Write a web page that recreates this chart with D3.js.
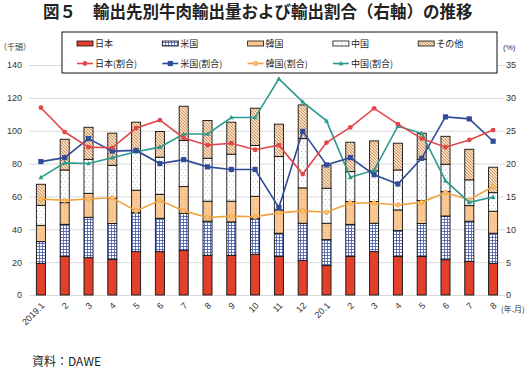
<!DOCTYPE html>
<html><head><meta charset="utf-8">
<script src="https://cdn.jsdelivr.net/npm/d3@7/dist/d3.min.js"></script>
<style>
body{margin:0;background:#fff;}
svg{display:block;}
text{font-family:"Liberation Sans","Noto Sans CJK JP",sans-serif;}
.jp{font-family:"Noto Sans CJK JP","Noto Sans",sans-serif;}
</style></head><body>
<svg id="c" width="531" height="369"></svg>
<script>
const months = ["2019.1","2","3","4","5","6","7","8","9","10","11","12","20.1","2","3","4","5","6","7","8"];
const japan = [19.3,23.4,22.7,21.7,26.4,26.4,27.2,24.2,24.2,24.8,23.4,21.1,17.9,23.4,26.4,23.4,23.4,21.5,20.5,19.3];
const usa   = [13.2,19.6,24.6,21.8,23.8,20.3,22.5,20.7,20.3,21.7,14.2,22.6,15.8,19.6,17.3,15.8,20.1,26.6,24.4,18.3];
const korea = [9.9,13.2,14.6,15.4,13.6,14.6,16.3,12.2,12.6,13.6,14.2,21.5,10.0,13.9,13.2,12.6,14.0,14.8,9.5,13.4];
const china = [12.2,19.9,20.7,20.1,24.1,22.6,28.0,26.1,28.6,30.9,32.5,30.0,21.3,18.2,18.6,24.3,25.1,16.7,15.7,11.3];
const other = [12.8,18.7,19.5,19.5,17.3,15.6,20.9,23.0,19.5,22.7,19.7,20.5,14.0,17.9,18.3,16.3,15.9,17.0,18.6,15.5];
const japanShare = [28.5,24.8,22.5,22.4,25.4,26.6,23.9,22.8,23.1,22.1,22.8,18.4,23.2,25.5,28.4,26.0,23.8,22.5,23.6,25.1];
const usaShare   = [20.3,20.9,23.8,21.9,22.0,20.0,20.6,19.5,19.1,19.1,13.3,24.9,19.8,20.9,18.3,16.9,20.8,27.1,26.8,23.4];
const koreaShare = [14.6,14.4,14.6,14.8,12.8,14.4,12.8,11.8,12.0,11.9,12.5,12.8,12.6,14.0,14.0,13.7,14.1,15.6,14.5,16.5];
const chinaShare = [17.9,20.1,20.0,20.9,21.8,22.5,24.5,24.5,27.0,27.0,32.9,29.4,26.5,17.9,19.0,25.7,24.6,17.4,14.1,14.9];
const leftTicks = [0,20,40,60,80,100,120,140];
const rightTicks = [0,5,10,15,20,25,30,35];
const barNames = ["日本","米国","韓国","中国","その他"];
const lineNames = ["日本(割合)","米国(割合)","韓国(割合)","中国(割合)"];

const svg = d3.select("#c");
const defs = svg.append("defs");
// patterns
let p = defs.append("pattern").attr("id","pUS").attr("patternUnits","userSpaceOnUse").attr("width",3).attr("height",3);
p.append("rect").attr("width",3).attr("height",3).attr("fill","#fff");
p.append("path").attr("d","M0,0.5H3M0.5,0V3").attr("stroke","#4a5fb0").attr("stroke-width",0.85);
p = defs.append("pattern").attr("id","pKR").attr("patternUnits","userSpaceOnUse").attr("width",3).attr("height",3);
p.append("rect").attr("width",3).attr("height",3).attr("fill","#f9c893");
p.append("rect").attr("x",1).attr("y",1).attr("width",1).attr("height",1).attr("fill","#f4b577");
p = defs.append("pattern").attr("id","pCN").attr("patternUnits","userSpaceOnUse").attr("width",4).attr("height",6);
p.append("rect").attr("width",4).attr("height",6).attr("fill","#fff");
p.append("rect").attr("x",1).attr("y",1).attr("width",1).attr("height",1).attr("fill","#9fc3cf");
p.append("rect").attr("x",3).attr("y",4).attr("width",1).attr("height",1).attr("fill","#c4dbe2");
p = defs.append("pattern").attr("id","pOT").attr("patternUnits","userSpaceOnUse").attr("width",3).attr("height",3);
p.append("rect").attr("width",3).attr("height",3).attr("fill","#f6dcc0");
p.append("path").attr("d","M-1,-1L4,4M-1,2L1,4M2,-1L4,1").attr("stroke","#c98a55").attr("stroke-width",0.9);

const fills = ["#e2402a","url(#pUS)","url(#pKR)","url(#pCN)","url(#pOT)"];
const lineColors = ["#e2474c","#2f4c99","#f0a23e","#2a9b8f"];

const x = d3.scaleBand().domain(d3.range(months.length)).range([29,505]).paddingInner(0.62).paddingOuter(0.31);
const y = d3.scaleLinear().domain([0,140]).range([295,65]);
const y2 = d3.scaleLinear().domain([0,35]).range([295,65]);

// title
svg.append("text").attr("class","jp").attr("x",43).attr("y",18).attr("font-size",16.5).attr("font-weight","bold").attr("fill","#222").text("図５");
svg.append("text").attr("class","jp").attr("x",93).attr("y",18).attr("font-size",16.5).attr("font-weight","bold").attr("fill","#222").text("輸出先別牛肉輸出量および輸出割合（右軸）の推移");

// grid
const gGrid = svg.append("g").attr("transform","translate(29,0)")
  .call(d3.axisLeft(y).tickValues(leftTicks).tickSize(-476).tickFormat(""));
gGrid.select(".domain").remove();
gGrid.selectAll("line").attr("stroke","#d9d9d9").attr("stroke-width",1);

// left axis
const gL = svg.append("g").attr("transform","translate(22,0)")
  .call(d3.axisLeft(y).tickValues(leftTicks).tickSize(0).tickPadding(0));
gL.select(".domain").remove();
gL.selectAll("text").attr("font-size",9).attr("fill","#333");
// right axis
const gR = svg.append("g").attr("transform","translate(506,0)")
  .call(d3.axisRight(y2).tickValues(rightTicks).tickSize(0).tickPadding(0));
gR.select(".domain").remove();
gR.selectAll("text").attr("font-size",9).attr("fill","#333");

svg.append("text").attr("class","jp").attr("x",-1).attr("y",50).attr("font-size",8).attr("fill","#333").text("（千頭）");
svg.append("text").attr("x",503).attr("y",50).attr("font-size",8).attr("fill","#333").text("(%)");

// x axis
const gX = svg.append("g").attr("transform","translate(0,295)")
  .call(d3.axisBottom(x).tickSize(0).tickFormat(i=>months[i]));
gX.select(".domain").remove();
gX.selectAll("text").attr("font-size",9).attr("fill","#333").attr("text-anchor","end")
  .attr("x",0).attr("y",0).attr("dy","0.35em").attr("transform","translate(2,9) rotate(-45)");
svg.append("text").attr("class","jp").attr("x",501).attr("y",312).attr("font-size",8).attr("fill","#333").text("(年.月)");

// stacked bars
const series = [japan,usa,korea,china,other];
const rows = months.map((m,i)=>({i, v:series.map(s=>s[i])}));
const stack = d3.stack().keys(d3.range(5)).value((d,k)=>d.v[k]);
const stacked = stack(rows);
svg.append("g").selectAll("g").data(stacked).join("g")
  .attr("fill",(d,k)=>fills[k])
  .selectAll("rect").data(d=>d).join("rect")
  .attr("x",d=>x(d.data.i)).attr("width",x.bandwidth())
  .attr("y",d=>y(d[1])).attr("height",d=>y(d[0])-y(d[1]))
  .attr("stroke","#111").attr("stroke-width",0.9);

// lines
const shares = [japanShare,usaShare,koreaShare,chinaShare];
const cx = i=>x(i)+x.bandwidth()/2;
const line = d3.line().x((d,i)=>cx(i)).y(d=>y2(d));
function marker(g,k,px,py){
  if(k===0) g.append("circle").attr("cx",px).attr("cy",py).attr("r",2.4).attr("fill",lineColors[0]);
  else if(k===1) g.append("rect").attr("x",px-2.6).attr("y",py-2.6).attr("width",5.2).attr("height",5.2).attr("fill",lineColors[1]);
  else if(k===2) g.append("circle").attr("cx",px).attr("cy",py).attr("r",2.2).attr("fill","#f8c27a").attr("stroke",lineColors[2]).attr("stroke-width",0.8);
  else g.append("path").attr("d",`M${px},${py-2.6}L${px+2.5},${py+1.8}L${px-2.5},${py+1.8}Z`).attr("fill",lineColors[3]);
}
[2,3,1,0].forEach(k=>{
  const g = svg.append("g");
  g.append("path").attr("d",line(shares[k])).attr("fill","none").attr("stroke",lineColors[k]).attr("stroke-width",1.6);
  shares[k].forEach((v,i)=>marker(g,k,cx(i),y2(v)));
});

// legend
const lg = svg.append("g");
lg.append("rect").attr("x",62).attr("y",32).attr("width",435).attr("height",41).attr("fill","#fff").attr("stroke","#111").attr("stroke-width",1);
barNames.forEach((n,k)=>{
  const lx = 77 + k*85.3;
  lg.append("rect").attr("x",lx).attr("y",41).attr("width",16).attr("height",5).attr("fill",fills[k]).attr("stroke","#111").attr("stroke-width",0.8);
  lg.append("text").attr("class","jp").attr("x",lx+18).attr("y",47).attr("font-size",9).attr("fill","#222").text(n);
});
lineNames.forEach((n,k)=>{
  const lx = 77 + k*85.3;
  lg.append("line").attr("x1",lx).attr("x2",lx+16).attr("y1",63.5).attr("y2",63.5).attr("stroke",lineColors[k]).attr("stroke-width",1.6);
  marker(lg,k,lx+8,63.5);
  lg.append("text").attr("class","jp").attr("x",lx+18).attr("y",67).attr("font-size",9).attr("fill","#222").text(n);
});

// source
svg.append("text").attr("class","jp").attr("x",32).attr("y",366).attr("font-size",12).attr("fill","#222").text("資料：DAWE");
</script>
</body></html>
